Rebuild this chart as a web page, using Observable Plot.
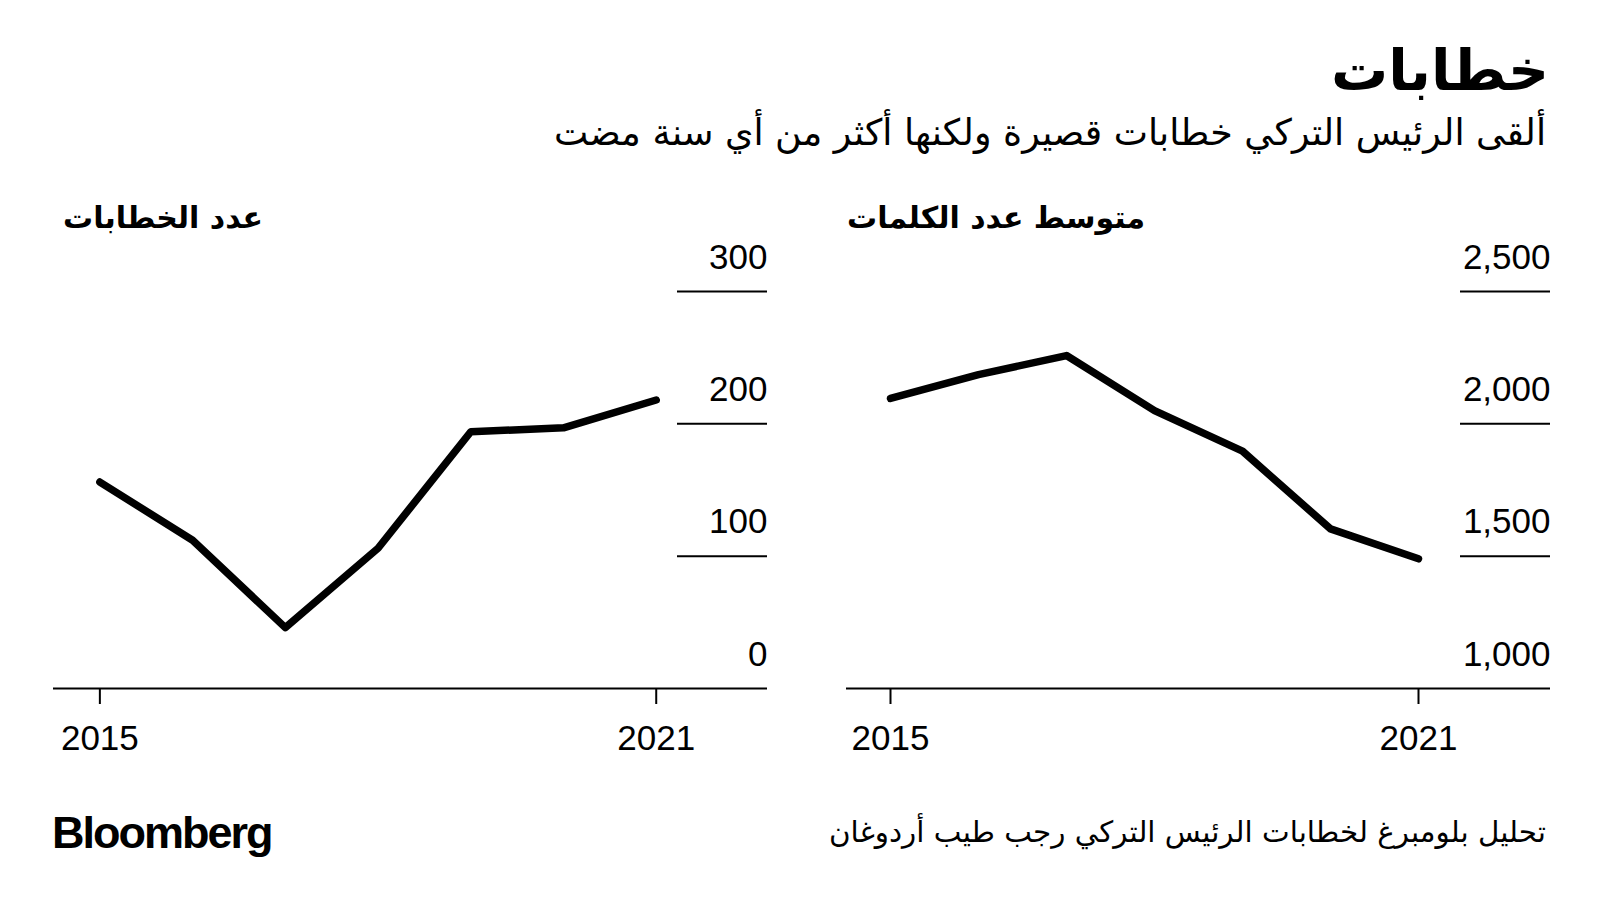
<!DOCTYPE html>
<html><head><meta charset="utf-8">
<script src="https://cdn.jsdelivr.net/npm/d3@7"></script>
<script src="https://cdn.jsdelivr.net/npm/@observablehq/plot@0.6"></script>
<style>
body{margin:0;background:#fff;}
#root{position:relative;width:1600px;height:910px;overflow:hidden;background:#fff;}
.ar{position:absolute;direction:rtl;font-family:"DejaVu Sans",sans-serif;color:#000;white-space:nowrap;line-height:1;}
.chart{position:absolute;top:230px;width:800px;height:540px;}
#brand{position:absolute;left:52px;top:810px;font-family:"Liberation Sans",Arial,sans-serif;font-weight:bold;font-size:45px;letter-spacing:-2px;line-height:1;color:#000;}
</style></head>
<body><div id="root"></div>
<script>
const years = [2015, 2016, 2017, 2018, 2019, 2020, 2021];
const speechCounts = [156, 112, 46, 106, 194, 197, 218];
const avgWords = [2096, 2186, 2258, 2050, 1897, 1603, 1490];
const countTicks = [0, 100, 200, 300];
const wordTicks = [1000, 1500, 2000, 2500];
const xTickYears = [2015, 2021];
const titleText = "خطابات";
const subtitleText = "ألقى الرئيس التركي خطابات قصيرة ولكنها أكثر من أي سنة مضت";
const countTitle = "عدد الخطابات";
const wordsTitle = "متوسط عدد الكلمات";
const sourceText = "تحليل بلومبرغ لخطابات الرئيس التركي رجب طيب أردوغان";
const brandText = "Bloomberg";

const root = document.getElementById("root");
function addText(cls, txt, css) {
  const d = document.createElement("div");
  d.className = cls; d.textContent = txt;
  Object.assign(d.style, css);
  root.appendChild(d);
  return d;
}
addText("ar", titleText, {right: "51px", top: "42px", fontSize: "57px", fontWeight: "bold"});
addText("ar", subtitleText, {right: "54px", top: "115px", fontSize: "36.4px"});
addText("ar", countTitle, {left: "63px", top: "203px", fontSize: "30px", fontWeight: "bold"});
addText("ar", wordsTitle, {left: "847px", top: "203px", fontSize: "30px", fontWeight: "bold"});
addText("ar", sourceText, {right: "54px", top: "818px", fontSize: "29.4px"});
const b = document.createElement("div"); b.id = "brand"; b.textContent = brandText; root.appendChild(b);

function panel({values, yDomain, yTicks, xDomain, marginLeft, marginRight, fmt}) {
  const data = years.map((year, i) => ({year, value: values[i]}));
  const W = 800, H = 540;
  const frameW = W - marginLeft - marginRight;
  return Plot.plot({
    width: W, height: H,
    marginLeft, marginRight, marginTop: 61, marginBottom: 82,
    style: {fontFamily: "'Liberation Sans', Arial, sans-serif", fontSize: "35px", color: "#000", background: "transparent", overflow: "visible"},
    x: {domain: xDomain},
    y: {domain: yDomain, axis: null},
    marks: [
      Plot.ruleY(yTicks.slice(1), {insetLeft: frameW - 90, stroke: "#000", strokeWidth: 2}),
      Plot.ruleY(yTicks.slice(0, 1), {stroke: "#000", strokeWidth: 2}),
      Plot.text(yTicks, {y: d => d, text: d => fmt(d), frameAnchor: "right", textAnchor: "end", dy: -34, fill: "#000", fontSize: 35}),
      Plot.axisX({ticks: xTickYears, tickSize: 16, tickPadding: 21, tickFormat: d => String(d), strokeWidth: 2, fontSize: 35, label: null}),
      Plot.line(data, {x: "year", y: "value", stroke: "#000", strokeWidth: 7.5, strokeLinejoin: "round", strokeLinecap: "round"})
    ]
  });
}

const left = document.createElement("div"); left.className = "chart"; left.style.left = "0px";
left.appendChild(panel({values: speechCounts, yDomain: [0, 300], yTicks: countTicks, xDomain: [2014.5, 2022.2], marginLeft: 53, marginRight: 33, fmt: d3.format(",")}));
root.appendChild(left);
const right = document.createElement("div"); right.className = "chart"; right.style.left = "800px";
right.appendChild(panel({values: avgWords, yDomain: [1000, 2500], yTicks: wordTicks, xDomain: [2014.5, 2022.5], marginLeft: 46, marginRight: 50, fmt: d3.format(",")}));
root.appendChild(right);
</script></body></html>
